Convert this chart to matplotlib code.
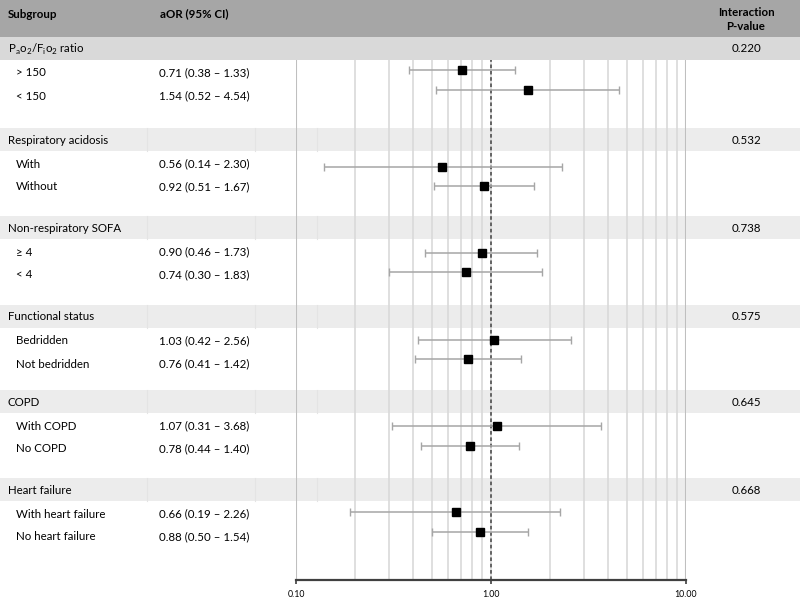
import matplotlib
matplotlib.use("Agg")
import matplotlib.pyplot as plt
from matplotlib.patches import Rectangle
import numpy as np

plt.rcParams['font.family'] = ['Lato', 'DejaVu Sans']

# ---------------- data ----------------
group_names = [r"P$_\mathregular{a}$o$_\mathregular{2}$/F$_\mathregular{i}$o$_\mathregular{2}$ ratio",
               "Respiratory acidosis", "Non-respiratory SOFA", "Functional status",
               "COPD", "Heart failure"]
p_values = ["0.220", "0.532", "0.738", "0.575", "0.645", "0.668"]
subgroups = ["> 150", "< 150", "With", "Without", "\u2265 4", "< 4",
             "Bedridden", "Not bedridden", "With COPD", "No COPD",
             "With heart failure", "No heart failure"]
aor = [0.71, 1.54, 0.56, 0.92, 0.90, 0.74, 1.03, 0.76, 1.07, 0.78, 0.66, 0.88]
ci_low = [0.38, 0.52, 0.14, 0.51, 0.46, 0.30, 0.42, 0.41, 0.31, 0.44, 0.19, 0.50]
ci_high = [1.33, 4.54, 2.30, 1.67, 1.73, 1.83, 2.56, 1.42, 3.68, 1.40, 2.26, 1.54]
tick_values = [0.1, 1, 10]
tick_labels = ["0.10", "1.00", "10.00"]

# ---------------- layout (pixel positions) ----------------
band_tops = [37, 128, 216, 305, 390, 478]
band_h = 23
text_offsets = [13, 36]
marker_rows = [70, 89.5, 167, 185.5, 253, 272, 340, 359, 426, 446, 512, 532]

fig = plt.figure(figsize=(8, 6), dpi=100)
bg = fig.add_axes([0, 0, 1, 1], zorder=0)
bg.set_xlim(0, 800)
bg.set_ylim(600, 0)
bg.axis('off')

# header
bg.add_patch(Rectangle((0, 0), 800, 37, color='#a6a6a6', lw=0))
hfs = 8.3
bg.text(8, 14, "Subgroup", fontsize=hfs, fontweight='bold', va='center', ha='left')
bg.text(160, 14, "aOR (95% CI)", fontsize=hfs, fontweight='bold', va='center', ha='left')
bg.text(746, 13, "Interaction", fontsize=hfs, fontweight='bold', va='center', ha='center')
bg.text(746, 27, "P-value", fontsize=hfs, fontweight='bold', va='center', ha='center')

fs = 8.3
for gi, (gname, pv, top) in enumerate(zip(group_names, p_values, band_tops)):
    col = '#d9d9d9' if gi == 0 else '#ececec'
    bg.add_patch(Rectangle((0, top), 800, band_h, color=col, lw=0))
    if gi > 0:
        for xd in (147, 255, 317):
            bg.plot([xd, xd], [top, top + band_h], color='#e4e4e4', lw=0.8)
    bg.text(8, top + band_h / 2 + 0.5, gname, fontsize=fs, va='center', ha='left')
    bg.text(746, top + band_h / 2 + 0.5, pv, fontsize=fs, va='center', ha='center')
    for k in range(2):
        i = gi * 2 + k
        y = top + band_h + text_offsets[k]
        bg.text(16, y, subgroups[i], fontsize=fs, va='center', ha='left')
        bg.text(159, y, f"{aor[i]:.2f} ({ci_low[i]:.2f} \u2013 {ci_high[i]:.2f})",
                fontsize=fs, va='center', ha='left')

# ---------------- forest axes ----------------
ax = fig.add_axes([296 / 800, (600 - 580) / 600, 390 / 800, 520 / 600], zorder=1)
ax.patch.set_alpha(0)
ax.set_xscale('log')
ax.set_xlim(0.1, 10)
ax.set_ylim(580, 60)

for s in ('top', 'right', 'left'):
    ax.spines[s].set_visible(False)
ax.spines['bottom'].set_color('#404040')
ax.spines['bottom'].set_linewidth(1.6)

minor = [m * d for d in (0.1, 1) for m in range(2, 10)]
for v in minor + [1]:
    ax.axvline(v, color='#d9d9d9', lw=1.2, zorder=1)
ax.axvline(0.1, color='#bfbfbf', lw=1.5, zorder=1)
ax.axvline(10, color='#bfbfbf', lw=1.5, zorder=1)
ax.axvline(1, color='#595959', lw=1.3, ls=(0, (2, 1.5)), zorder=2)

ax.set_xticks(tick_values)
ax.set_xticklabels(tick_labels)
ax.xaxis.set_minor_locator(matplotlib.ticker.NullLocator())
ax.tick_params(axis='x', direction='out', length=3, width=1.2, color='#404040',
               labelsize=6.3, pad=4)
ax.set_yticks([])

aor_a = np.array(aor)
xerr = [aor_a - np.array(ci_low), np.array(ci_high) - aor_a]
ax.errorbar(aor_a, marker_rows, xerr=xerr, fmt='s', color='black', ms=6.2,
            ecolor='#a6a6a6', elinewidth=1.1, capsize=2.6, capthick=1.0, zorder=3)

fig.savefig("out.png", dpi=100)
